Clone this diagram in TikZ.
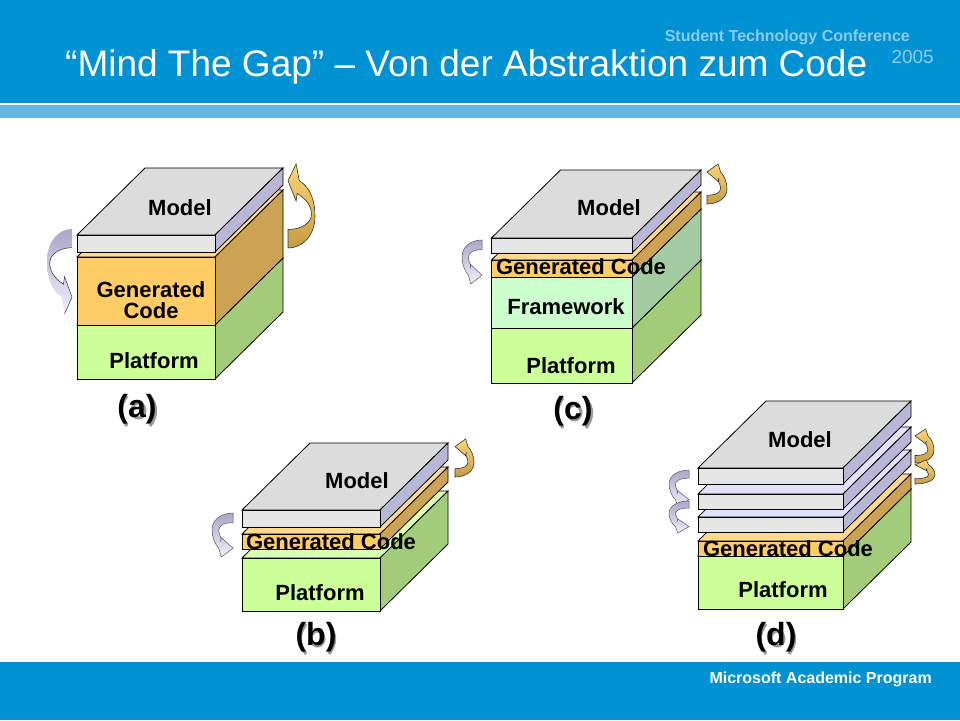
\documentclass[tikz,border=0pt]{standalone}
\usepackage{fontspec}
\setmainfont{Liberation Sans}
\definecolor{hdr}{HTML}{0092D2}
\definecolor{band}{HTML}{62B7E5}
\definecolor{confc}{HTML}{8CCBEE}
\definecolor{mF}{HTML}{E6E6E6}\definecolor{mT}{HTML}{DCDCDC}\definecolor{mS}{HTML}{B8B8D6}
\definecolor{lT}{HTML}{E2E2FF}
\definecolor{gF}{HTML}{FFCC66}\definecolor{gT}{HTML}{FFD98C}\definecolor{gS}{HTML}{CCA352}
\definecolor{pF}{HTML}{CCFF99}\definecolor{pT}{HTML}{D9FFB3}\definecolor{pS}{HTML}{A3CC7A}
\definecolor{fF}{HTML}{CCFFCC}\definecolor{fT}{HTML}{DDFFDD}\definecolor{fS}{HTML}{A3CCA3}
\definecolor{lavA}{HTML}{A8A8C8}\definecolor{lavB}{HTML}{F0F0FF}
\definecolor{orA}{HTML}{FFD477}\definecolor{orB}{HTML}{C49C44}
\newcommand{\slabx}[5]{%
  \draw[slabline,fill=#4] (\gx,#1) -- ++(\gw,0) -- ++(\gd,-\gh) -- ++(-\gw,0) -- cycle;
  \draw[slabline,fill=#5] (\gx+\gw,#1) -- ++(\gd,-\gh) -- ++(0,#2-#1) -- ++(-\gd,\gh) -- cycle;
  \draw[slabline,fill=#3] (\gx,#1) rectangle (\gx+\gw,#2);
}
% curved arrow: #1,#2 origin; #3,#4 x and y units; #5 band thickness; #6 head barb x
\newcommand{\arrowpath}[2]{%
  (1,0) .. controls (0.45,0) and (0,0.15) .. (0,0.38) .. controls (0,0.55) and (0.15,0.72) .. (#2-0.12,0.8)
  -- (#2,1) -- (1,0.8) -- (#2,0.56) -- (#2-0.04,0.65) .. controls (#1+0.19,0.58) and (#1,0.5) .. (#1,0.4)
  .. controls (#1,0.3) and (0.5,0.22) .. (1,0.22) -- cycle}
\newcommand{\lavarrow}[6]{%
  \shade[top color=lavA,bottom color=lavB,shift={(#1,#2)},x=#3pt,y=#4pt] \arrowpath{#5}{#6};
  \draw[arrowline,shift={(#1,#2)},x=#3pt,y=#4pt]
    (1,0.22) .. controls (0.5,0.22) and (#5,0.3) .. (#5,0.4) .. controls (#5,0.5) and (#5+0.19,0.58) .. (#6-0.04,0.65)
    -- (#6,0.56) -- (1,0.8) -- (#6,1);
}
\newcommand{\lavsmall}[6]{%
  \shade[draw=black!65,line width=.5pt,top color=lavA,bottom color=lavB,shift={(#1,#2)},x=#3pt,y=#4pt] \arrowpath{#5}{#6};
}
\newcommand{\orarrow}[6]{%
  \shade[draw=black!80,line width=.6pt,top color=orA,bottom color=orB,shift={(#1,#2)},x=#3pt,y=#4pt] \arrowpath{#5}{#6};
}
% soft drop shadow under a tag label, drawn as shapes: centre x, baseline
\newcommand{\tagshade}[2]{%
  \begin{scope}[shift={(#1+1.5,#2+2)},shadeline]
    \draw (-11.5,-23) .. controls (-19,-13) and (-19,-3) .. (-11.5,7);
    \draw (11.5,-23) .. controls (19,-13) and (19,-3) .. (11.5,7);
    \draw (0,-8.5) ellipse [x radius=6.5,y radius=7.5];
  \end{scope}
}
\newcommand{\fs}[1]{\fontsize{#1}{#1}\selectfont}
\tikzset{
  slabline/.style={draw=black,line width=.8pt,line join=miter},
  arrowline/.style={draw=black!80,line width=.5pt},
  shadeline/.style={draw=black!40,line width=3pt},
  lay/.style={anchor=base,inner sep=0pt,font=\bfseries\fs{22}},
  tag/.style={anchor=base,inner sep=0pt,font=\bfseries\fs{32}},
}
\begin{document}
\begin{tikzpicture}[x=1pt,y=-1pt]
\useasboundingbox (0,0) rectangle (960,720);
\fill[white] (0,0) rectangle (960,720);
\fill[hdr] (0,0) rectangle (960,103);
\fill[band] (0,104.5) rectangle (960,118);
\fill[hdr] (0,662) rectangle (960,720);
\node[anchor=base west,inner sep=0pt,text=white,font=\fs{37}] (title) at (65,76) {“Mind The Gap” – Von der Abstraktion zum Code};
\node[anchor=base east,inner sep=0pt,text=confc,font=\bfseries\fs{16}] (conf) at (910,41) {Student Technology Conference};
\node[anchor=base east,inner sep=0pt,text=confc,font=\fs{19}] (year) at (934,63) {2005};
\node[anchor=base east,inner sep=0pt,text=white,font=\bfseries\fs{16}] (msap) at (932,683) {Microsoft Academic Program};

% (a)
\def\gx{77}\def\gw{138}\def\gd{68}\def\gh{67}
\slabx{325}{379}{pF}{pT}{pS}
\slabx{257}{325}{gF}{gT}{gS}
\slabx{235}{252}{mF}{mT}{mS}
\lavarrow{47}{229}{25}{-85}{0.11}{0.7}
\orarrow{315}{248}{-27}{84}{0.13}{0.7}
\node[lay] (aM) at (180,215) {Model};
\node[lay] (aG) at (151,297) {Generated};
\node[lay] (aC) at (151,318) {Code};
\node[lay] (aP) at (154,368) {Platform};
\tagshade{137}{417}
\node[tag] (aT) at (137,417) {(a)};

% (c)
\def\gx{491.5}\def\gw{140.5}\def\gd{69}\def\gh{68}
\slabx{328}{383}{pF}{pT}{pS}
\slabx{277}{328}{fF}{fT}{fS}
\slabx{260}{277}{gF}{gT}{gS}
\slabx{238}{253}{mF}{mT}{mS}
\lavsmall{462}{240}{20}{-44}{0.32}{0.44}
\orarrow{727}{204}{-20}{40}{0.32}{0.44}
\node[lay] (cM) at (609,215) {Model};
\node[lay] (cG) at (581,274) {Generated Code};
\node[lay] (cF) at (566,314) {Framework};
\node[lay] (cP) at (571,373) {Platform};
\tagshade{573}{419}
\node[tag] (cT) at (573,419) {(c)};

% (b)
\def\gx{242}\def\gw{138}\def\gd{68}\def\gh{67}
\slabx{558}{611}{pF}{pT}{pS}
\slabx{534}{549}{gF}{gT}{gS}
\slabx{510}{527}{mF}{mT}{mS}
\lavsmall{212}{513}{21}{-44}{0.32}{0.44}
\orarrow{474}{477}{-19}{38}{0.32}{0.44}
\node[lay] (bM) at (357,488) {Model};
\node[lay] (bG) at (331,549) {Generated Code};
\node[lay] (bP) at (320,600) {Platform};
\tagshade{316}{645}
\node[tag] (bT) at (316,645) {(b)};

% (d)
\def\gx{698}\def\gw{145}\def\gd{68}\def\gh{67}
\slabx{556}{609}{pF}{pT}{pS}
\slabx{541}{556}{gF}{gT}{gS}
\slabx{517}{532}{mF}{lT}{mS}
\slabx{494}{509}{mF}{lT}{mS}
\slabx{468}{484}{mF}{mT}{mS}
\lavsmall{669}{470}{20}{-37}{0.32}{0.44}
\lavsmall{669}{501}{20}{-32}{0.32}{0.44}
\orarrow{934}{463}{-19}{34}{0.32}{0.44}
\orarrow{935}{484}{-20}{24}{0.32}{0.44}
\node[lay] (dM) at (800,447) {Model};
\node[lay] (dG) at (788,556) {Generated Code};
\node[lay] (dP) at (783,597) {Platform};
\tagshade{776}{645}
\node[tag] (dT) at (776,645) {(d)};
\end{tikzpicture}
\end{document}
